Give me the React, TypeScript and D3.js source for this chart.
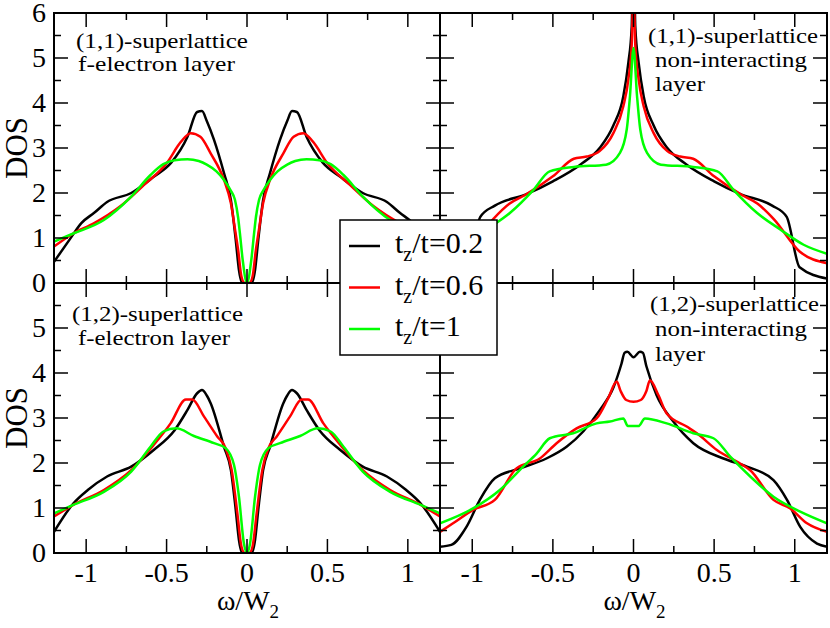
import React from "react";
import * as d3 from "d3";

// ---------- DATA ----------
type P = [number, number];

// Top-left: (1,1)-superlattice f-electron layer
const tlBlack: P[] = [
  [-1.2, 0.47], [-1.1, 0.98], [-1.03, 1.33], [-0.95, 1.56], [-0.87, 1.8], [-0.72, 2.0], [-0.58, 2.36], [-0.47, 2.68],
  [-0.37, 3.25], [-0.31, 3.8], [-0.28, 3.82], [-0.25, 3.6], [-0.205, 3.18], [-0.143, 2.44], [-0.1, 1.84], [-0.07, 0.96],
  [-0.05, 0.29], [-0.03, 0.0], [0, 0.0], [0.03, 0.0], [0.05, 0.29], [0.07, 0.96], [0.1, 1.84], [0.143, 2.44],
  [0.205, 3.18], [0.25, 3.6], [0.28, 3.82], [0.31, 3.8], [0.37, 3.25], [0.47, 2.68], [0.58, 2.36], [0.72, 2.0],
  [0.87, 1.8], [0.95, 1.56], [1.03, 1.33], [1.1, 0.98], [1.2, 0.47],
];
const tlRed: P[] = [
  [-1.2, 0.81], [-1.08, 1.1], [-0.95, 1.33], [-0.79, 1.7], [-0.64, 2.18], [-0.5, 2.66], [-0.41, 3.14], [-0.35, 3.33],
  [-0.29, 3.25], [-0.226, 2.88], [-0.143, 2.29], [-0.1, 1.77], [-0.075, 1.2], [-0.055, 0.73], [-0.035, 0.15], [-0.015, 0.0],
  [0.015, 0.0], [0.035, 0.15], [0.055, 0.73], [0.075, 1.2], [0.1, 1.77], [0.143, 2.29], [0.226, 2.88], [0.29, 3.25],
  [0.35, 3.33], [0.41, 3.14], [0.5, 2.66], [0.64, 2.18], [0.79, 1.7], [0.95, 1.33], [1.08, 1.1], [1.2, 0.81],
];
const tlGreen: P[] = [
  [-1.2, 0.92], [-1.08, 1.1], [-0.89, 1.4], [-0.72, 1.92], [-0.6, 2.4], [-0.52, 2.64], [-0.45, 2.73], [-0.37, 2.75],
  [-0.3, 2.71], [-0.25, 2.63], [-0.19, 2.48], [-0.143, 2.29], [-0.1, 2.05], [-0.075, 1.85], [-0.055, 1.45], [-0.044, 1.1],
  [-0.027, 0.52], [0, 0.0], [0.027, 0.52], [0.044, 1.1], [0.055, 1.45], [0.075, 1.85], [0.1, 2.05], [0.143, 2.29],
  [0.19, 2.48], [0.25, 2.63], [0.3, 2.71], [0.37, 2.75], [0.45, 2.73], [0.52, 2.64], [0.6, 2.4], [0.72, 1.92],
  [0.89, 1.4], [1.08, 1.1], [1.2, 0.92],
];

// Top-right: (1,1)-superlattice non-interacting layer
const trBlack: P[] = [
  [-1.2, 0.1], [-1.03, 0.35], [-0.95, 1.47], [-0.86, 1.72], [-0.66, 1.98], [-0.5, 2.26], [-0.33, 2.63], [-0.21, 3.0],
  [-0.125, 3.5], [-0.063, 4.15], [-0.032, 4.89], [-0.011, 5.7], [0, 8.0], [0.011, 5.7], [0.032, 4.89], [0.063, 4.15],
  [0.125, 3.5], [0.21, 3.0], [0.33, 2.63], [0.5, 2.26], [0.66, 1.98], [0.86, 1.72], [0.95, 1.47], [1.03, 0.35],
  [1.2, 0.1],
];
const trRed: P[] = [
  [-1.2, 0.44], [-1.03, 0.7], [-0.87, 1.42], [-0.77, 1.76], [-0.67, 1.96], [-0.5, 2.37], [-0.37, 2.76], [-0.29, 2.81],
  [-0.21, 2.93], [-0.125, 3.33], [-0.063, 3.93], [-0.032, 4.52], [-0.011, 5.3], [0, 6.6], [0.011, 5.3], [0.032, 4.52],
  [0.063, 3.93], [0.125, 3.33], [0.21, 2.93], [0.29, 2.81], [0.37, 2.76], [0.5, 2.37], [0.67, 1.96], [0.77, 1.76],
  [0.87, 1.42], [1.03, 0.7], [1.2, 0.44],
];
const trGreen: P[] = [
  [-1.2, 0.65], [-1.055, 0.85], [-0.91, 1.19], [-0.765, 1.56], [-0.62, 2.07], [-0.52, 2.48], [-0.37, 2.58], [-0.17, 2.63],
  [-0.084, 2.89], [-0.042, 3.41], [-0.022, 4.15], [0, 5.22], [0.022, 4.15], [0.042, 3.41], [0.084, 2.89], [0.17, 2.63],
  [0.37, 2.58], [0.52, 2.48], [0.62, 2.07], [0.765, 1.56], [0.91, 1.19], [1.055, 0.85], [1.2, 0.65],
];

// Bottom-left: (1,2)-superlattice f-electron layer
const blBlack: P[] = [
  [-1.2, 0.47], [-1.08, 1.1], [-0.99, 1.4], [-0.87, 1.7], [-0.72, 1.92], [-0.58, 2.29], [-0.45, 2.73], [-0.37, 3.18],
  [-0.31, 3.55], [-0.28, 3.62], [-0.25, 3.5], [-0.226, 3.33], [-0.143, 2.36], [-0.1, 1.84], [-0.07, 0.96], [-0.05, 0.29],
  [-0.03, 0.0], [0, 0.0], [0.03, 0.0], [0.05, 0.29], [0.07, 0.96], [0.1, 1.84], [0.143, 2.36], [0.226, 3.33],
  [0.25, 3.5], [0.28, 3.62], [0.31, 3.55], [0.37, 3.18], [0.45, 2.73], [0.58, 2.29], [0.72, 1.92], [0.87, 1.7],
  [0.99, 1.4], [1.08, 1.1], [1.2, 0.47],
];
const blRed: P[] = [
  [-1.2, 0.81], [-1.08, 1.07], [-0.89, 1.4], [-0.72, 1.84], [-0.58, 2.4], [-0.475, 2.88], [-0.38, 3.41], [-0.34, 3.41],
  [-0.267, 3.03], [-0.185, 2.59], [-0.133, 2.33], [-0.095, 1.84], [-0.06, 0.88], [-0.035, 0.15], [-0.015, 0.0], [0.015, 0.0],
  [0.035, 0.15], [0.06, 0.88], [0.095, 1.84], [0.133, 2.33], [0.185, 2.59], [0.267, 3.03], [0.34, 3.41], [0.38, 3.41],
  [0.475, 2.88], [0.58, 2.4], [0.72, 1.84], [0.89, 1.4], [1.08, 1.07], [1.2, 0.81],
];
const blGreen: P[] = [
  [-1.2, 0.88], [-1.08, 1.07], [-0.89, 1.36], [-0.72, 1.81], [-0.6, 2.36], [-0.52, 2.7], [-0.44, 2.77], [-0.33, 2.6],
  [-0.205, 2.44], [-0.133, 2.33], [-0.081, 1.96], [-0.05, 1.25], [-0.019, 0.21], [0, 0.0], [0.019, 0.21], [0.05, 1.25],
  [0.081, 1.96], [0.133, 2.33], [0.205, 2.44], [0.33, 2.6], [0.44, 2.77], [0.52, 2.7], [0.6, 2.36], [0.72, 1.81],
  [0.89, 1.36], [1.08, 1.07], [1.2, 0.88],
];

// Bottom-right: (1,2)-superlattice non-interacting layer
const brBlack: P[] = [
  [-1.2, 0.14], [-1.13, 0.18], [-1.036, 0.58], [-0.953, 1.18], [-0.86, 1.66], [-0.705, 1.88], [-0.54, 2.1], [-0.415, 2.36],
  [-0.312, 2.7], [-0.208, 3.18], [-0.122, 3.7], [-0.075, 4.2], [-0.055, 4.45], [-0.038, 4.47], [0.0, 4.35], [0.04, 4.47],
  [0.058, 4.45], [0.08, 4.15], [0.144, 3.5], [0.247, 2.92], [0.371, 2.44], [0.558, 2.1], [0.703, 1.92], [0.868, 1.62],
  [0.952, 1.18], [1.034, 0.58], [1.138, 0.21], [1.2, 0.14],
];
const brRed: P[] = [
  [-1.2, 0.47], [-1.119, 0.66], [-0.995, 0.96], [-0.86, 1.18], [-0.726, 1.88], [-0.581, 2.1], [-0.477, 2.44], [-0.353, 2.77],
  [-0.229, 2.99], [-0.157, 3.44], [-0.104, 3.81], [-0.08, 3.6], [-0.045, 3.4], [0, 3.36], [0.045, 3.4], [0.08, 3.6],
  [0.102, 3.84], [0.154, 3.51], [0.206, 3.1], [0.33, 2.81], [0.393, 2.66], [0.517, 2.29], [0.661, 1.99], [0.724, 1.84],
  [0.868, 1.18], [0.972, 0.99], [1.076, 0.66], [1.2, 0.47],
];
const brGreen: P[] = [
  [-1.2, 0.66], [-0.995, 0.99], [-0.829, 1.4], [-0.684, 1.92], [-0.601, 2.21], [-0.519, 2.55], [-0.374, 2.66], [-0.229, 2.88],
  [-0.146, 2.92], [-0.063, 2.99], [-0.035, 2.82], [0.03, 2.82], [0.071, 2.99], [0.206, 2.88], [0.371, 2.66], [0.496, 2.55],
  [0.6, 2.14], [0.724, 1.7], [0.868, 1.25], [1.034, 0.92], [1.2, 0.66],
];

const seriesNames = ["t_z/t=0.2", "t_z/t=0.6", "t_z/t=1"];
const seriesLegendValues = ["0.2", "0.6", "1"];
const seriesColors = ["#000000", "#ff0000", "#00ff00"];

const xTickValues = [-1, -0.5, 0, 0.5, 1];
const xTickLabels = ["-1", "-0.5", "0", "0.5", "1"];
const yTickValuesTop = [0, 1, 2, 3, 4, 5, 6];
const yTickValuesBottom = [0, 1, 2, 3, 4, 5];

const panelLabels = [
  ["(1,1)-superlattice", "f-electron layer"],
  ["(1,1)-superlattice", "non-interacting", "layer"],
  ["(1,2)-superlattice", "f-electron layer"],
  ["(1,2)-superlattice", "non-interacting", "layer"],
];

// ---------- LAYOUT ----------
const W = 830, H = 628;
const XL = 54, XM = 440, XR = 827;
const YT = 13, YM = 283, YB = 553;
const FONT = `"Liberation Serif", monospace`;

type Panel = {
  id: string;
  x0: number; x1: number; y0: number; y1: number;
  series: P[][];
  labels: string[];
  labelPos: { x: number; y: number; len: number }[];
  yLabels: number[] | null;
  xLabels: boolean;
};

const panels: Panel[] = [
  {
    id: "tl", x0: XL, x1: XM, y0: YT, y1: YM, series: [tlBlack, tlRed, tlGreen], labels: panelLabels[0],
    labelPos: [{ x: 76, y: 48, len: 172 }, { x: 78, y: 71, len: 157 }], yLabels: yTickValuesTop, xLabels: false,
  },
  {
    id: "tr", x0: XM, x1: XR, y0: YT, y1: YM, series: [trBlack, trRed, trGreen], labels: panelLabels[1],
    labelPos: [{ x: 648, y: 43, len: 170 }, { x: 655, y: 67, len: 152 }, { x: 655, y: 91, len: 50 }], yLabels: null, xLabels: false,
  },
  {
    id: "bl", x0: XL, x1: XM, y0: YM, y1: YB, series: [blBlack, blRed, blGreen], labels: panelLabels[2],
    labelPos: [{ x: 72, y: 321, len: 171 }, { x: 78, y: 345, len: 152 }], yLabels: yTickValuesBottom, xLabels: true,
  },
  {
    id: "br", x0: XM, x1: XR, y0: YM, y1: YB, series: [brBlack, brRed, brGreen], labels: panelLabels[3],
    labelPos: [{ x: 650, y: 311, len: 169 }, { x: 655, y: 336, len: 152 }, { x: 655, y: 361, len: 50 }], yLabels: null, xLabels: true,
  },
];

const MAJ = 14, MIN = 7;

function PanelView({ p }: { p: Panel }) {
  const x = d3.scaleLinear().domain([-1.2, 1.2]).range([p.x0, p.x1]);
  const y = d3.scaleLinear().domain([0, 6]).range([p.y1, p.y0]);
  const line = d3.line<P>().x((d) => x(d[0])).y((d) => y(d[1])).curve(d3.curveMonotoneX);
  const xMajor = x.ticks(5).filter((v) => Math.abs(v * 2 - Math.round(v * 2)) < 1e-9);
  const xMinor = d3.range(-1.25, 1.26, 0.25).filter((v) => v >= -1.2 && v <= 1.2 && Math.abs(v * 2 - Math.round(v * 2)) > 1e-9);
  const yMajor = d3.range(0, 7, 1);
  const yMinor = d3.range(0.5, 6, 1);
  const ticks: any[] = [];
  const tk = (key: string, x1: number, y1: number, x2: number, y2: number) =>
    ticks.push(<line key={key} x1={x1} y1={y1} x2={x2} y2={y2} stroke="#000" strokeWidth={1.5} />);
  xMajor.forEach((v, i) => {
    tk("xb" + i, x(v), p.y1, x(v), p.y1 - MAJ);
    tk("xt" + i, x(v), p.y0, x(v), p.y0 + MAJ);
  });
  xMinor.forEach((v, i) => {
    tk("xbm" + i, x(v), p.y1, x(v), p.y1 - MIN);
    tk("xtm" + i, x(v), p.y0, x(v), p.y0 + MIN);
  });
  yMajor.forEach((v, i) => {
    tk("yl" + i, p.x0, y(v), p.x0 + MAJ, y(v));
    tk("yr" + i, p.x1, y(v), p.x1 - MAJ, y(v));
  });
  yMinor.forEach((v, i) => {
    tk("ylm" + i, p.x0, y(v), p.x0 + MIN, y(v));
    tk("yrm" + i, p.x1, y(v), p.x1 - MIN, y(v));
  });
  return (
    <g>
      <defs>
        <clipPath id={"clip-" + p.id}>
          <rect x={p.x0} y={p.y0} width={p.x1 - p.x0} height={p.y1 - p.y0} />
        </clipPath>
      </defs>
      <g clipPath={`url(#clip-${p.id})`}>
        {p.series.map((s, i) => (
          <path key={i} d={line(s) || ""} fill="none" stroke={seriesColors[i]} strokeWidth={2.5} strokeLinejoin="round" />
        ))}
      </g>
      {ticks}
      <rect x={p.x0} y={p.y0} width={p.x1 - p.x0} height={p.y1 - p.y0} fill="none" stroke="#000" strokeWidth={2} />
      {p.labels.map((t, i) => (
        <text key={i} className="ser" x={p.labelPos[i].x} y={p.labelPos[i].y} fontFamily="Liberation Serif" style={{ fontFamily: FONT }}
          fontSize={22} textLength={p.labelPos[i].len} lengthAdjust="spacingAndGlyphs">{t}</text>
      ))}
      {p.yLabels &&
        p.yLabels.map((v) => (
          <text key={"yl" + v} className="ser" x={p.x0 - 8} y={y(v) + 9} textAnchor="end" fontFamily="Liberation Serif"
            style={{ fontFamily: FONT }} fontSize={28}>{v}</text>
        ))}
      {p.xLabels &&
        xTickValues.map((v, i) => (
          <text key={"xl" + v} className="ser" x={x(v)} y={582} textAnchor="middle" fontFamily="Liberation Serif"
            style={{ fontFamily: FONT }} fontSize={28}>{xTickLabels[i]}</text>
        ))}
      {p.xLabels && (
        <text className="ser" x={x(0) + 1} y={610} textAnchor="middle" fontFamily="Liberation Serif" style={{ fontFamily: FONT }} fontSize={28}>
          ω/W<tspan fontSize={19} dy={8}>2</tspan>
        </text>
      )}
    </g>
  );
}

export default function App() {
  const legX = 340, legY = 220, legW = 157, legH = 135;
  const rowBase = [253, 294.5, 336];
  return (
    <svg width={W} height={H} style={{ position: "absolute", left: 0, top: 0 }}>
      <style>{`.ser { font-family: "Liberation Serif", monospace !important; }`}</style>
      <rect x={0} y={0} width={W} height={H} fill="#fff" />
      {panels.map((p) => <PanelView key={p.id} p={p} />)}
      <text className="ser" transform={`translate(27,${(YT + YM) / 2}) rotate(-90)`} textAnchor="middle" fontFamily="Liberation Serif" style={{ fontFamily: FONT }} fontSize={31}>DOS</text>
      <text className="ser" transform={`translate(27,${(YM + YB) / 2}) rotate(-90)`} textAnchor="middle" fontFamily="Liberation Serif" style={{ fontFamily: FONT }} fontSize={31}>DOS</text>
      <g>
        <rect x={legX} y={legY} width={legW} height={legH} fill="#fff" stroke="#000" strokeWidth={1.5} />
        {seriesNames.map((n, i) => (
          <g key={n}>
            <line x1={349} x2={380} y1={rowBase[i] - 7} y2={rowBase[i] - 7} stroke={seriesColors[i]} strokeWidth={2.5} />
            <text className="ser" x={395} y={rowBase[i]} fontFamily="Liberation Serif" style={{ fontFamily: FONT }} fontSize={30}>
              t<tspan fontSize={20} dy={8}>z</tspan><tspan dy={-8}>/t={seriesLegendValues[i]}</tspan>
            </text>
          </g>
        ))}
      </g>
    </svg>
  );
}
